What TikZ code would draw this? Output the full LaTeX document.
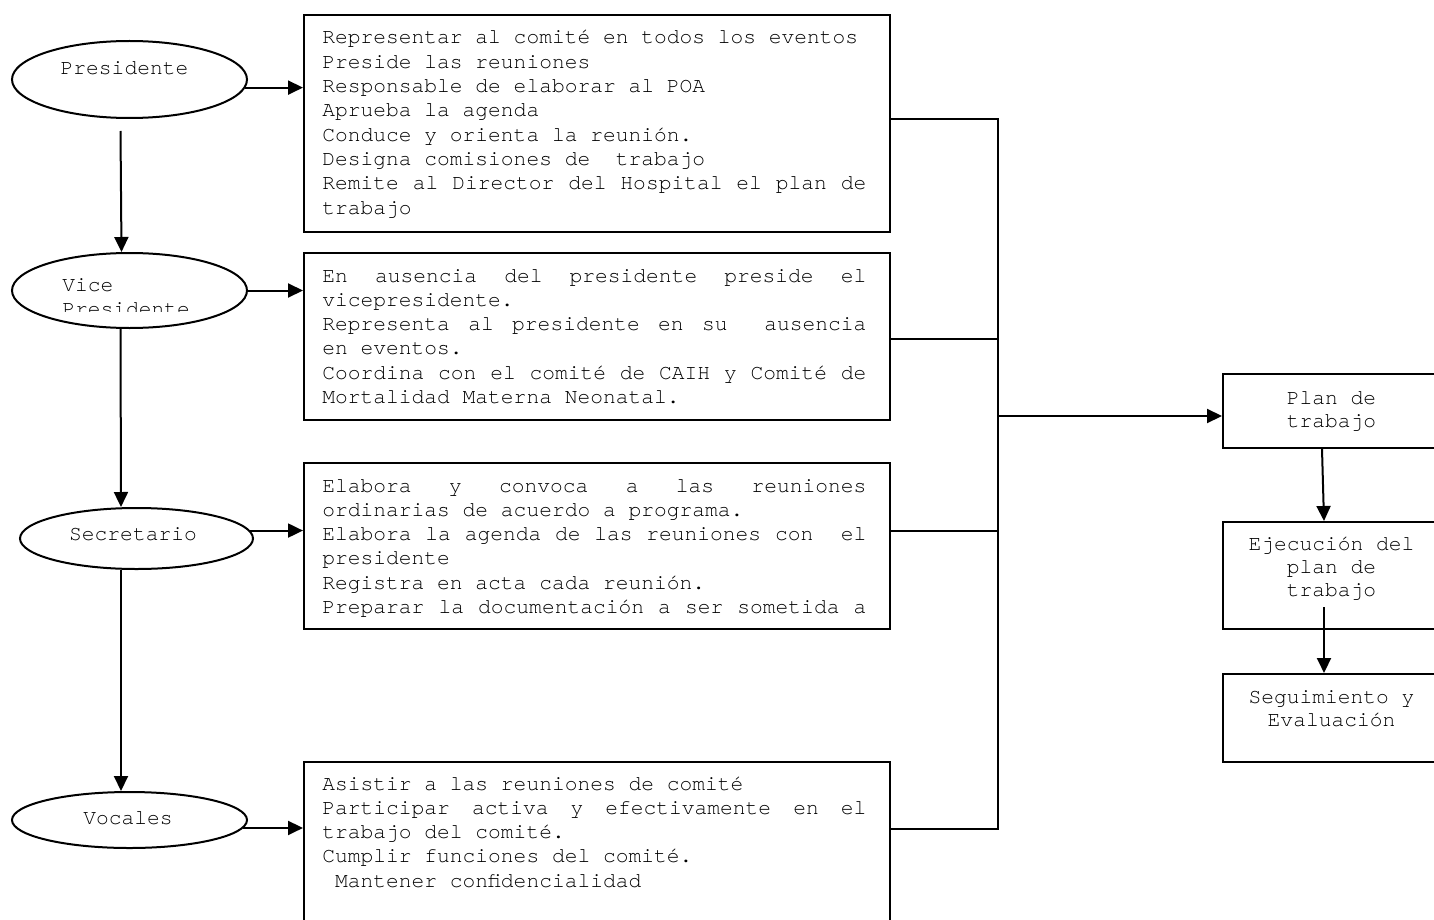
\documentclass[tikz,border=0pt]{standalone}
\usepackage{fontspec}
\setmainfont{TeX Gyre Cursor}
\usetikzlibrary{shapes.geometric,arrows.meta}

\newlength{\tw}\setlength{\tw}{272pt}
\newcommand{\jl}[1]{\leavevmode\hbox to \tw{\spaceskip=0.6em plus 1fil\relax #1}}

\begin{document}
\begin{tikzpicture}[x=0.5pt,y=-0.5pt,
    role/.style={ellipse, draw, line width=1pt, inner sep=0pt},
    roletext/.style={inner sep=0pt, font=\fontsize{10.63}{12.15}\selectfont},
    duty/.style={draw, line width=1pt, minimum width=293pt, anchor=north west, inner sep=0pt},
    dutytext/.style={anchor=base west, text width=272pt, align=left, inner sep=0pt, font=\fontsize{10.63}{12.15}\selectfont,
        execute at begin node={\spaceskip=0.6em\relax\xspaceskip=0.6em\relax\frenchspacing}},
    stage/.style={draw, line width=1pt, minimum width=109.5pt, anchor=north west, inner sep=0pt},
    stagetext/.style={anchor=base, text width=105pt, align=center, inner sep=0pt, font=\fontsize{10.63}{11.7}\selectfont,
        execute at begin node={\spaceskip=0.6em\relax\xspaceskip=0.6em\relax\frenchspacing}},
    arr/.style={line width=1pt, -{Triangle[length=7.5pt,width=7pt]}},
    link/.style={line width=1pt}]
    \clip (0,0) rectangle (1434,920);
    \useasboundingbox (0,0) rectangle (1434,920);

    % Draw the roles
    \node[role, minimum width=117.5pt, minimum height=38.5pt] (pres) at (129.5,79.5) {};
    \node[role, minimum width=117.5pt, minimum height=37.5pt] (vice) at (129.5,290.5) {};
    \node[role, minimum width=116.5pt, minimum height=30.5pt] (sec) at (136.5,538.5) {};
    \node[role, minimum width=117.5pt, minimum height=28pt] (voc) at (129.5,820) {};

    \node[roletext, anchor=base] (prest) at (124.5,75) {Presidente};
    \begin{scope}
        \clip (12,253) rectangle (247,311);
        \node[roletext, anchor=base west, text width=80pt, align=left] (vicet) at (62,291) {Vice\\Presidente};
    \end{scope}
    \node[roletext, anchor=base] (sect) at (133,540) {Secretario};
    \node[roletext, anchor=base] (voct) at (128,824) {Vocales};

    % Draw the duty boxes
    \node[duty, minimum height=108.5pt] (b1) at (303,14) {};
    \node[duty, minimum height=83.5pt] (b2) at (303,252) {};
    \node[duty, minimum height=83pt] (b3) at (303,462) {};
    \node[duty, minimum height=82pt] (b4) at (303,761) {};

    \node[dutytext] (t1) at (322,44) {Representar al comité en todos los eventos\\
        Preside las reuniones\\
        Responsable de elaborar al POA\\
        Aprueba la agenda\\
        Conduce y orienta la reunión.\\
        Designa comisiones de\ \ trabajo\\
        \jl{Remite al Director del Hospital el plan de}\\
        trabajo};
    \node[dutytext] (t2) at (322,282) {\jl{En ausencia del presidente preside el}\\
        vicepresidente.\\
        \jl{Representa al presidente en su\ \ ausencia}\\
        en eventos.\\
        \jl{Coordina con el comité de CAIH y Comité de}\\
        Mortalidad Materna Neonatal.};
    \node[dutytext] (t3) at (322,492) {\jl{Elabora y convoca a las reuniones}\\
        ordinarias de acuerdo a programa.\\
        \jl{Elabora la agenda de las reuniones con\ \ el}\\
        presidente\\
        Registra en acta cada reunión.\\
        \jl{Preparar la documentación a ser sometida a}};
    \node[dutytext] (t4) at (322,790) {Asistir a las reuniones de comité\\
        \jl{Participar activa y efectivamente en el}\\
        trabajo del comité.\\
        Cumplir funciones del comité.\\
        \hspace*{0.6em}Mantener confidencialidad};

    % Draw the stages
    \node[stage, minimum height=37pt] (plan) at (1222,373) {};
    \node[stage, minimum height=53.5pt] (ejec) at (1222,521) {};
    \node[stage, minimum height=44pt] (seg) at (1222,673) {};

    \node[stagetext] (plant) at (1331.5,404) {Plan de\\trabajo};
    \node[stagetext] (eject) at (1331.5,550) {Ejecución del\\plan de\\trabajo};
    \node[stagetext] (segt) at (1331.5,703) {Seguimiento y\\Evaluación};

    % Arrows from the roles
    \draw[arr] (pres.-4) -- (pres.-4 -| b1.west);
    \draw[arr] (vice.east) -- (vice.east -| b2.west);
    \draw[arr] (sec.4) -- (sec.4 -| b3.west);
    \draw[arr] (voc.-4.5) -- (voc.-4.5 -| b4.west);

    \draw[arr] ([shift={(-9,12)}]pres.south) -- ([shift={(-8,0)}]vice.north);
    \draw[arr] ([shift={(-9,0)}]vice.south) -- ([shift={(-15.5,0)}]sec.north);
    \draw[arr] ([shift={(-15.5,0)}]sec.south) -- ([shift={(-8.5,0)}]voc.north);

    % Join the boxes
    \coordinate (bus) at (998,416);
    \coordinate (c1) at ([shift={(0,-4.5)}]b1.east);
    \coordinate (c2) at ([shift={(0,2.5)}]b2.east);
    \coordinate (c3) at ([shift={(0,-15)}]b3.east);
    \coordinate (c4) at ([shift={(0,-15)}]b4.east);
    \draw[link] (c1) -| (bus) |- (c4);
    \draw[link] (c2) -- (c2 -| bus);
    \draw[link] (c3) -- (c3 -| bus);
    \draw[arr] (bus) -- (bus -| plan.west);

    % Arrows between the stages
    \draw[arr] ([shift={(-10.5,0)}]plan.south) -- ([shift={(-8.5,0)}]ejec.north);
    \draw[arr] ([shift={(-8.5,-23)}]ejec.south) -- ([shift={(-8.5,0)}]seg.north);
\end{tikzpicture}
\end{document}
